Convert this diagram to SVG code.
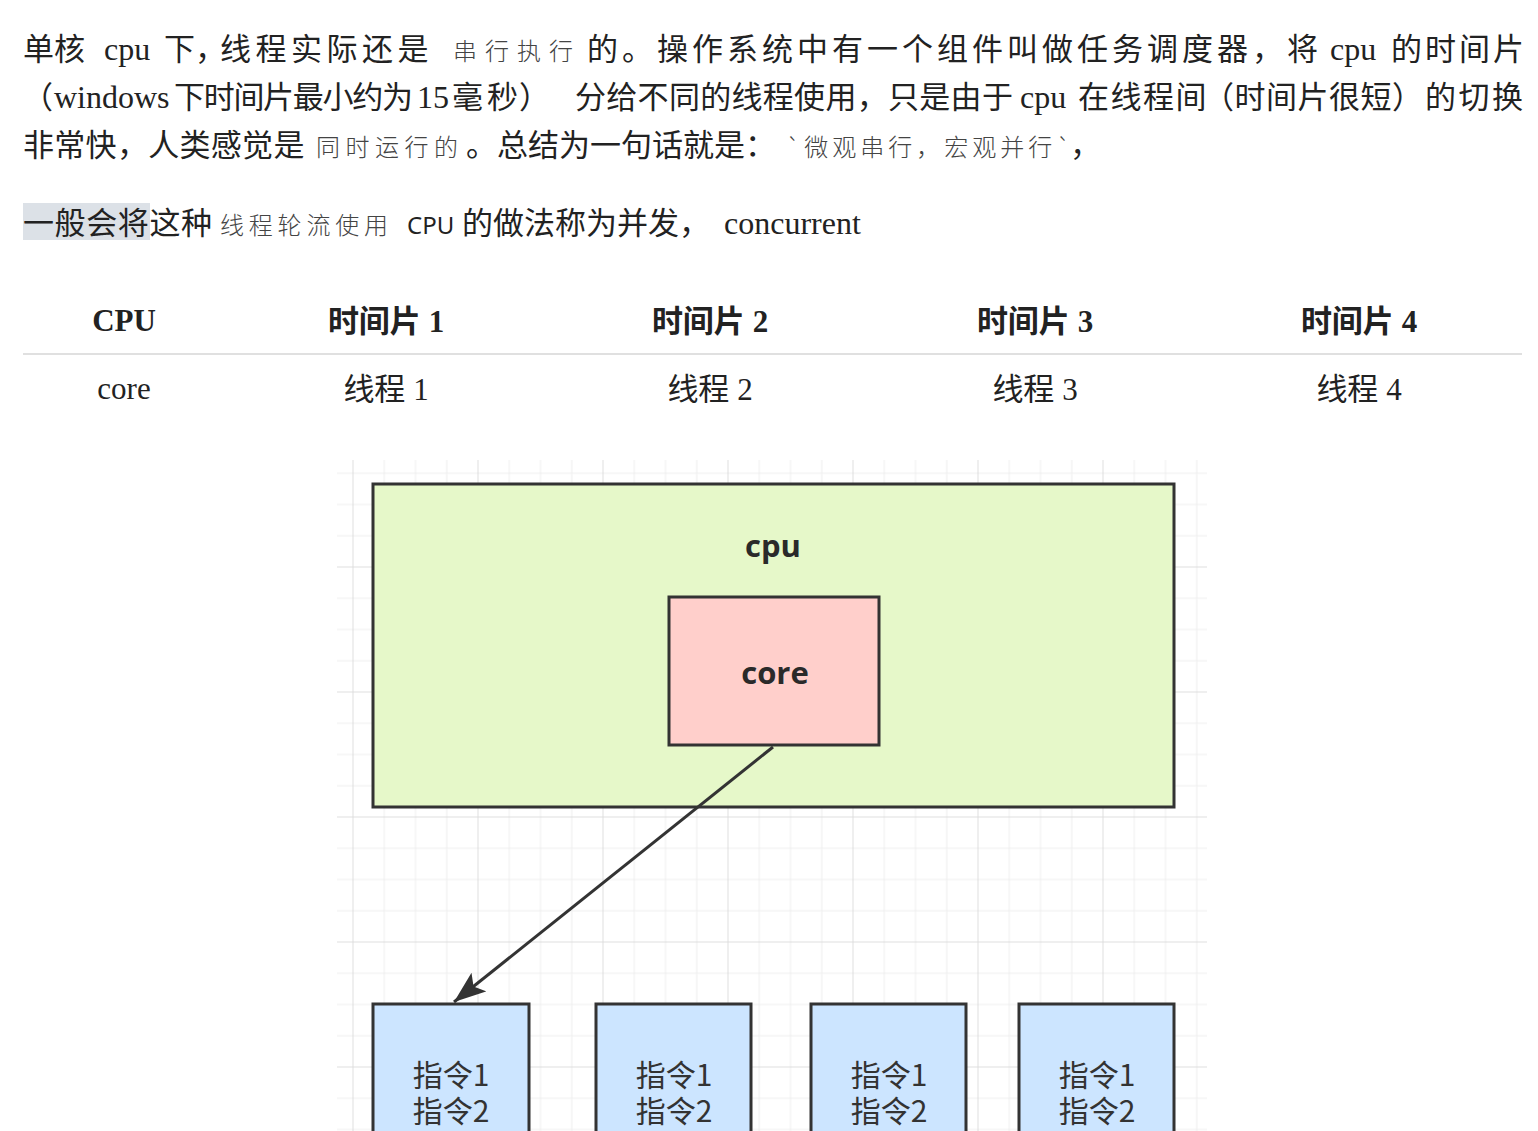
<svg xmlns="http://www.w3.org/2000/svg" width="1538" height="1131" viewBox="0 0 1538 1131">
<style>
.cj{font-family:"Noto Sans CJK SC","Noto Sans",sans-serif;font-size:31px;fill:#222}
.lt{font-family:"Liberation Serif","Noto Sans CJK SC",serif;font-size:32px;fill:#222}
.sm{font-family:"Noto Sans CJK SC",sans-serif;font-size:24px;font-weight:300;fill:#444}
.ns{font-family:"Noto Sans","Liberation Sans",sans-serif;font-size:24px;fill:#222}
.th{font-family:"Noto Sans CJK SC",sans-serif;font-size:31px;font-weight:700;fill:#222}
.thl{font-family:"Liberation Serif",serif;font-size:31px;font-weight:700;fill:#222}
.td{font-family:"Noto Sans CJK SC",sans-serif;font-size:31px;fill:#222}
.tdl{font-family:"Liberation Serif",serif;font-size:31px;fill:#222}
.node{stroke:#333;stroke-width:3}
.lbl{font-family:"Open Sans","Noto Sans",sans-serif;font-weight:700;font-size:31px;fill:#2a2a2a;text-anchor:middle}
.ins{font-family:"Noto Sans CJK SC",sans-serif;font-size:30px;fill:#333;text-anchor:middle}
.edge{stroke:#333;stroke-width:3;fill:none}
</style>
<defs>
<pattern id="grid" x="352.5" y="441.5" width="125" height="125" patternUnits="userSpaceOnUse">
<path d="M31.75 0V125M63 0V125M94.25 0V125M0 31.75H125M0 63H125M0 94.25H125" stroke="#eeeeee" stroke-width="1" fill="none"/>
<path d="M0.5 0V125M0 0.5H125" stroke="#dedede" stroke-width="1" fill="none"/>
</pattern>
<marker id="arrow" markerUnits="userSpaceOnUse" markerWidth="36" markerHeight="28" refX="32" refY="12" orient="auto">
<path d="M0 0L32 12L0 24L7 12Z" fill="#333"/>
</marker>
</defs>
<rect width="1538" height="1131" fill="#ffffff"/>

<g id="paragraph">
<text y="60"><tspan class="cj" x="23">单核</tspan><tspan class="lt" x="104">cpu</tspan><tspan class="cj" x="164">下，</tspan><tspan class="cj" x="220" letter-spacing="4.5">线程实际还是</tspan><tspan class="sm" x="453" letter-spacing="8">串行执行</tspan><tspan class="cj" x="587" letter-spacing="4">的。操作系统中有一个组件叫做任务调度器，将</tspan><tspan class="lt" x="1330">cpu</tspan><tspan class="cj" x="1391" letter-spacing="3">的时间片</tspan></text>
<text y="108"><tspan class="cj" x="22">（</tspan><tspan class="lt" x="54">windows</tspan><tspan class="cj" x="174" letter-spacing="-1.3">下时间片最小约为</tspan><tspan class="lt" x="417" font-size="28">15</tspan><tspan class="cj" x="452" letter-spacing="4">毫秒</tspan><tspan class="cj" x="519">）</tspan><tspan class="cj" x="575" letter-spacing="0.3">分给不同的线程使用，只是由于</tspan><tspan class="lt" x="1020">cpu</tspan><tspan class="cj" x="1078" letter-spacing="1.5">在线程间</tspan><tspan class="cj" x="1203" letter-spacing="0.5">（时间片很短）</tspan><tspan class="cj" x="1425" letter-spacing="2.5">的切换</tspan></text>
<text y="156"><tspan class="cj" x="23" letter-spacing="0.3">非常快，人类感觉是</tspan><tspan class="sm" x="316" letter-spacing="5.5">同时运行的</tspan><tspan class="cj" x="466">。总结为一句话就是：</tspan><tspan class="sm" x="786" letter-spacing="4">`微观串行，宏观并行`</tspan><tspan class="cj" x="1070">，</tspan></text>
</g>

<g id="concurrent-line">
<rect x="23" y="203" width="127" height="37" fill="#dce1e7"/>
<text y="234"><tspan class="cj" x="23" letter-spacing="0.6">一般会将这种</tspan><tspan class="sm" x="220" letter-spacing="4.8">线程轮流使用</tspan><tspan class="ns" x="407">CPU</tspan><tspan class="cj" x="462">的做法称为并发，</tspan><tspan class="lt" x="724" font-size="31.5">concurrent</tspan></text>
</g>

<g id="table">
<text x="124" y="331" text-anchor="middle" class="thl">CPU</text>
<text x="386" y="332" text-anchor="middle"><tspan class="th">时间片</tspan><tspan class="thl"> 1</tspan></text>
<text x="710" y="332" text-anchor="middle"><tspan class="th">时间片</tspan><tspan class="thl"> 2</tspan></text>
<text x="1035" y="332" text-anchor="middle"><tspan class="th">时间片</tspan><tspan class="thl"> 3</tspan></text>
<text x="1359" y="332" text-anchor="middle"><tspan class="th">时间片</tspan><tspan class="thl"> 4</tspan></text>
<line x1="23" y1="354" x2="1522" y2="354" stroke="#e0e0e0" stroke-width="2"/>
<text x="124" y="399" text-anchor="middle" class="tdl">core</text>
<text x="386" y="400" text-anchor="middle"><tspan class="td">线程</tspan><tspan class="tdl"> 1</tspan></text>
<text x="710" y="400" text-anchor="middle"><tspan class="td">线程</tspan><tspan class="tdl"> 2</tspan></text>
<text x="1035" y="400" text-anchor="middle"><tspan class="td">线程</tspan><tspan class="tdl"> 3</tspan></text>
<text x="1359" y="400" text-anchor="middle"><tspan class="td">线程</tspan><tspan class="tdl"> 4</tspan></text>
</g>

<g id="grid-bg">
<rect x="337" y="460" width="870" height="671" fill="url(#grid)"/>
</g>

<g id="cpu">
<rect class="node" x="373" y="484" width="801" height="323" fill="#e6f8c9"/>
<text class="lbl" x="773" y="557">cpu</text>
</g>
<g id="core">
<rect class="node" x="669" y="597" width="210" height="148" fill="#ffcfcb"/>
<text class="lbl" x="775" y="684">core</text>
</g>

<g id="connectors">
<line class="edge" x1="773" y1="747" x2="454" y2="1002" marker-end="url(#arrow)"/>
</g>

<g id="thread1">
<rect class="node" x="373" y="1004" width="156" height="200" fill="#cce5ff"/>
<text class="ins"><tspan x="451" y="1086">指令1</tspan><tspan x="451" y="1122">指令2</tspan></text>
</g>
<g id="thread2">
<rect class="node" x="596" y="1004" width="155" height="200" fill="#cce5ff"/>
<text class="ins"><tspan x="674" y="1086">指令1</tspan><tspan x="674" y="1122">指令2</tspan></text>
</g>
<g id="thread3">
<rect class="node" x="811" y="1004" width="155" height="200" fill="#cce5ff"/>
<text class="ins"><tspan x="889" y="1086">指令1</tspan><tspan x="889" y="1122">指令2</tspan></text>
</g>
<g id="thread4">
<rect class="node" x="1019" y="1004" width="155" height="200" fill="#cce5ff"/>
<text class="ins"><tspan x="1097" y="1086">指令1</tspan><tspan x="1097" y="1122">指令2</tspan></text>
</g>
</svg>
